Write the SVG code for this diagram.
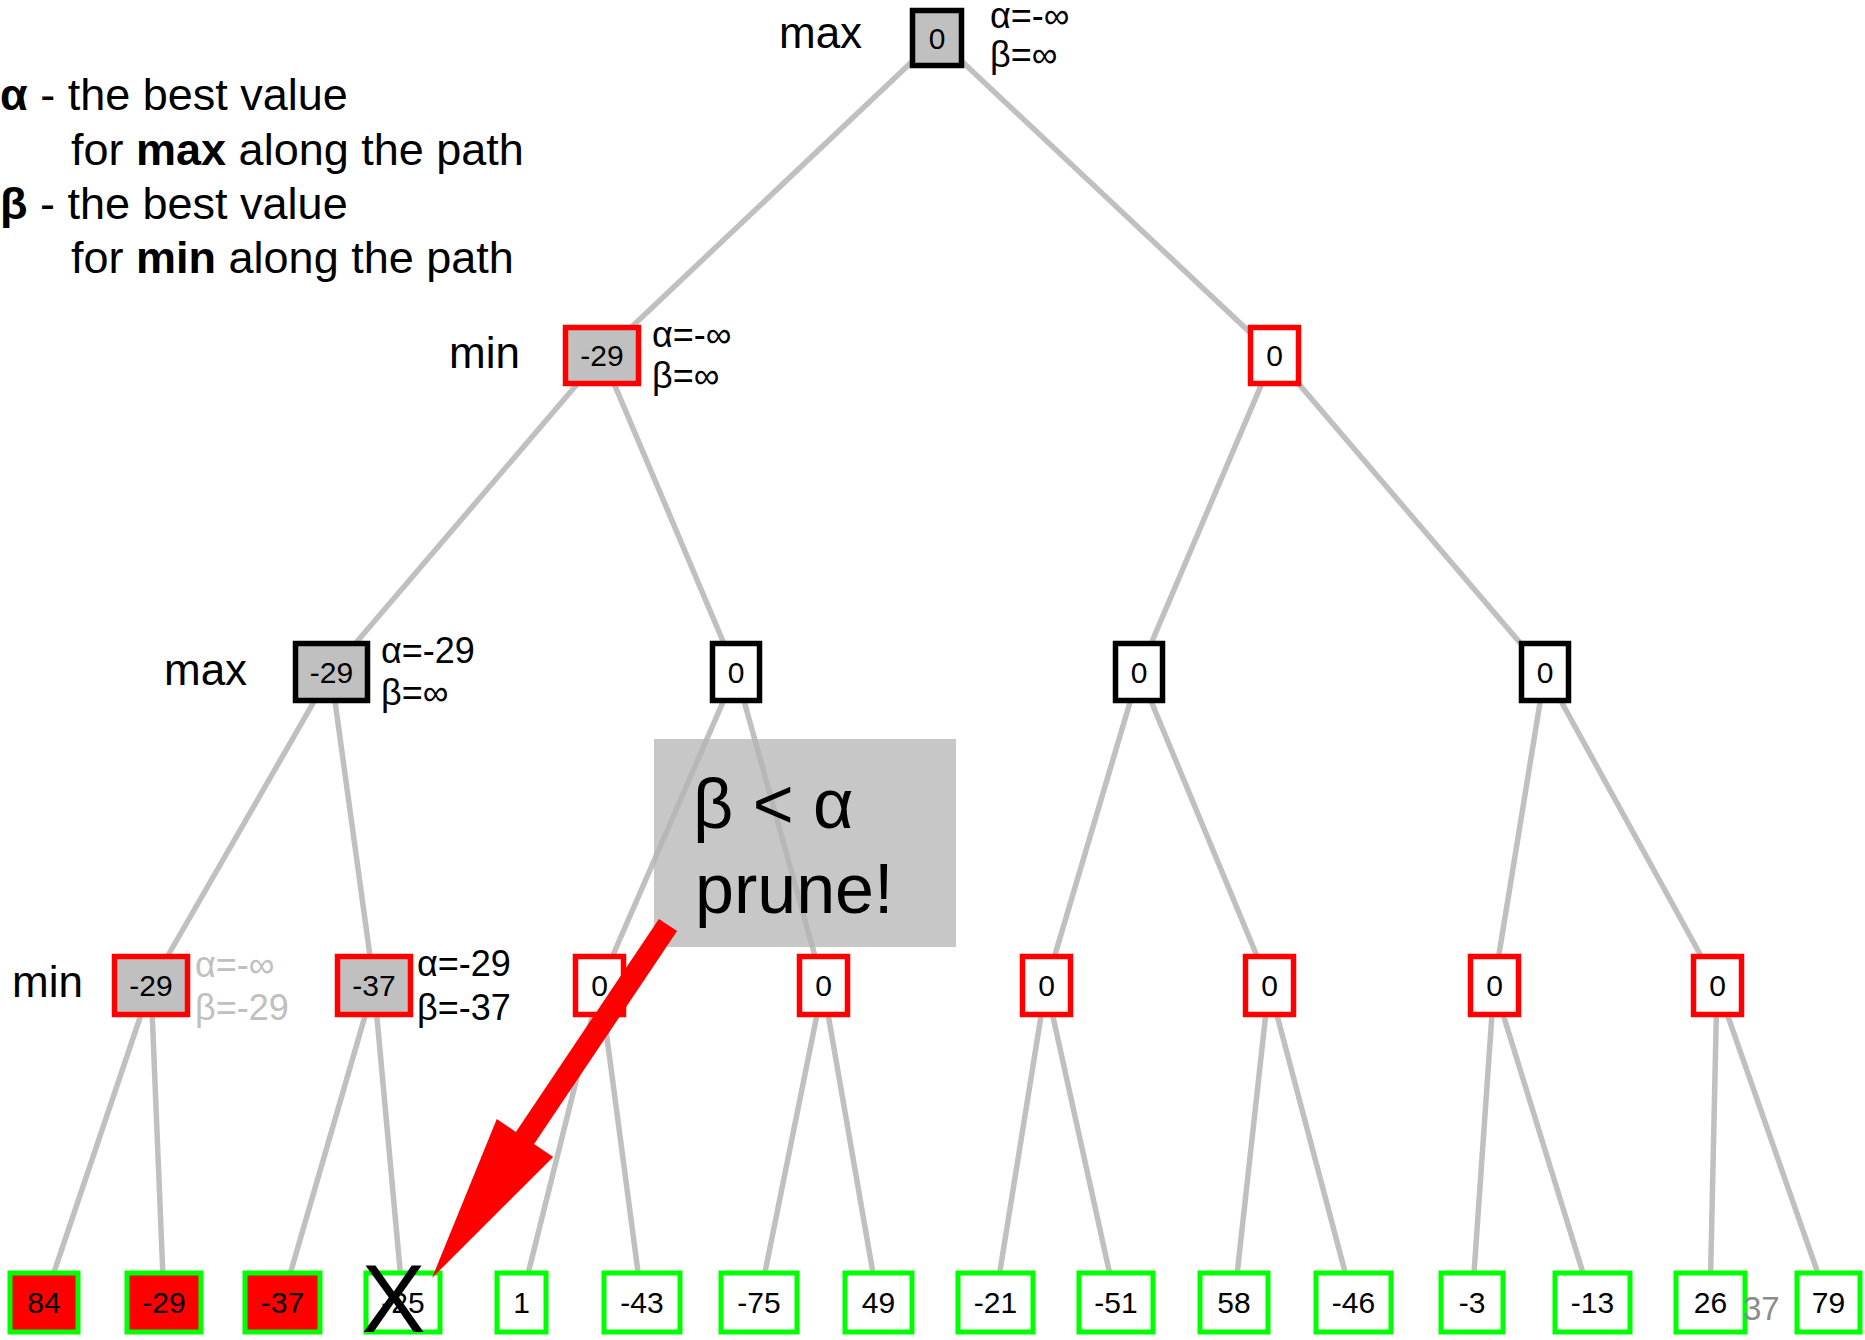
<svg xmlns="http://www.w3.org/2000/svg" width="1865" height="1340" viewBox="0 0 1865 1340">
<style>
text{font-family:"Liberation Sans",Arial,sans-serif;fill:#000}
.e line{stroke:#c0c0c0;stroke-width:5.5}
.n{stroke-width:5.5}
.mx{stroke:#000}
.mn{stroke:#ff0000}
.lf{stroke:#00ff00;stroke-width:5}
.g{fill:#c0c0c0}
.w{fill:#fff}
.r{fill:#ff0000}
.v{font-size:30px;text-anchor:middle}
.lv{font-size:44px}
.ab{font-size:36px}
.lg{font-size:45px}
</style>
<rect width="1865" height="1340" fill="#fff"/>
<g id="legend">
<text class="lg" x="0" y="110"><tspan font-weight="bold">α</tspan> - the best value</text>
<text class="lg" x="71" y="165">for <tspan font-weight="bold">max</tspan> along the path</text>
<text class="lg" x="0" y="219"><tspan font-weight="bold">β</tspan> - the best value</text>
<text class="lg" x="71" y="273">for <tspan font-weight="bold">min</tspan> along the path</text>
</g>
<g id="connectors" class="e">
<line x1="937" y1="38" x2="602" y2="355"/>
<line x1="937" y1="38" x2="1274" y2="355"/>
<line x1="602" y1="355" x2="331" y2="672"/>
<line x1="602" y1="355" x2="736" y2="672"/>
<line x1="1274" y1="355" x2="1139" y2="672"/>
<line x1="1274" y1="355" x2="1545" y2="672"/>
<line x1="331" y1="672" x2="151" y2="985"/>
<line x1="331" y1="672" x2="374" y2="985"/>
<line x1="736" y1="672" x2="600" y2="985"/>
<line x1="736" y1="672" x2="823" y2="985"/>
<line x1="1139" y1="672" x2="1046" y2="985"/>
<line x1="1139" y1="672" x2="1269" y2="985"/>
<line x1="1545" y1="672" x2="1494" y2="985"/>
<line x1="1545" y1="672" x2="1717" y2="985"/>
<line x1="151" y1="985" x2="44" y2="1302"/>
<line x1="151" y1="985" x2="164" y2="1302"/>
<line x1="374" y1="985" x2="282" y2="1302"/>
<line x1="374" y1="985" x2="403" y2="1302"/>
<line x1="600" y1="985" x2="521" y2="1302"/>
<line x1="600" y1="985" x2="642" y2="1302"/>
<line x1="823" y1="985" x2="759" y2="1302"/>
<line x1="823" y1="985" x2="878" y2="1302"/>
<line x1="1046" y1="985" x2="995" y2="1302"/>
<line x1="1046" y1="985" x2="1116" y2="1302"/>
<line x1="1269" y1="985" x2="1234" y2="1302"/>
<line x1="1269" y1="985" x2="1353" y2="1302"/>
<line x1="1494" y1="985" x2="1472" y2="1302"/>
<line x1="1494" y1="985" x2="1592" y2="1302"/>
<line x1="1717" y1="985" x2="1710" y2="1302"/>
<line x1="1717" y1="985" x2="1828" y2="1302"/>
</g>
<g id="prune-note">
<rect x="654" y="739" width="302" height="208" fill="#b4b4b4" fill-opacity="0.75"/>
<text x="693" y="828" font-size="70">β &lt; α</text>
<text x="695" y="913" font-size="70">prune!</text>
</g>
<g id="root">
<rect class="n mx g" x="912.5" y="10.5" width="49" height="55"/>
<text class="v" x="937" y="49">0</text>
<text class="lv" x="779" y="48">max</text>
<text class="ab" x="990" y="28">α=-∞</text>
<text class="ab" x="990" y="67">β=∞</text>
</g>
<g id="n1a">
<rect class="n mn g" x="565.5" y="327.5" width="73" height="56"/>
<text class="v" x="602" y="366">-29</text>
<text class="lv" x="449" y="368">min</text>
<text class="ab" x="652" y="347">α=-∞</text>
<text class="ab" x="652" y="388">β=∞</text>
</g>
<g id="n1b">
<rect class="n mn w" x="1250.5" y="327.5" width="48" height="56"/>
<text class="v" x="1274.5" y="366">0</text>
</g>
<g id="n2a">
<rect class="n mx g" x="295.5" y="643.5" width="72" height="57"/>
<text class="v" x="331.5" y="683">-29</text>
<text class="lv" x="164" y="685">max</text>
<text class="ab" x="381" y="663">α=-29</text>
<text class="ab" x="381" y="705">β=∞</text>
</g>
<g id="n2b">
<rect class="n mx w" x="712.5" y="643.5" width="47" height="57"/>
<text class="v" x="736" y="683">0</text>
</g>
<g id="n2c">
<rect class="n mx w" x="1115.5" y="643.5" width="47" height="57"/>
<text class="v" x="1139" y="683">0</text>
</g>
<g id="n2d">
<rect class="n mx w" x="1521.5" y="643.5" width="47" height="57"/>
<text class="v" x="1545" y="683">0</text>
</g>
<g id="n3a">
<rect class="n mn g" x="114.5" y="956.5" width="73" height="58"/>
<text class="v" x="151" y="996">-29</text>
<text class="lv" x="12" y="997">min</text>
<text class="ab" x="195" y="977" style="fill:#c0c0c0">α=-∞</text>
<text class="ab" x="195" y="1020" style="fill:#c0c0c0">β=-29</text>
</g>
<g id="n3b">
<rect class="n mn g" x="337.5" y="956.5" width="73" height="58"/>
<text class="v" x="374" y="996">-37</text>
<text class="ab" x="417" y="976">α=-29</text>
<text class="ab" x="417" y="1020">β=-37</text>
</g>
<g id="n3c"><rect class="n mn w" x="575.5" y="956.5" width="48" height="58"/><text class="v" x="599.5" y="996">0</text></g>
<g id="n3d"><rect class="n mn w" x="799.5" y="956.5" width="48" height="58"/><text class="v" x="823.5" y="996">0</text></g>
<g id="n3e"><rect class="n mn w" x="1022.5" y="956.5" width="48" height="58"/><text class="v" x="1046.5" y="996">0</text></g>
<g id="n3f"><rect class="n mn w" x="1245.5" y="956.5" width="48" height="58"/><text class="v" x="1269.5" y="996">0</text></g>
<g id="n3g"><rect class="n mn w" x="1470.5" y="956.5" width="48" height="58"/><text class="v" x="1494.5" y="996">0</text></g>
<g id="n3h"><rect class="n mn w" x="1693.5" y="956.5" width="48" height="58"/><text class="v" x="1717.5" y="996">0</text></g>
<g id="leaf1"><rect class="lf r" x="10" y="1273" width="68" height="59"/><text class="v" x="44" y="1313">84</text></g>
<g id="leaf2"><rect class="lf r" x="127" y="1273" width="74" height="59"/><text class="v" x="164" y="1313">-29</text></g>
<g id="leaf3"><rect class="lf r" x="245" y="1273" width="75" height="59"/><text class="v" x="282.5" y="1313">-37</text></g>
<g id="leaf4"><rect class="lf w" x="366" y="1273" width="74" height="59"/><text class="v" x="403" y="1313">-25</text></g>
<g id="leaf5"><rect class="lf w" x="497" y="1273" width="49" height="59"/><text class="v" x="521.5" y="1313">1</text></g>
<g id="leaf6"><rect class="lf w" x="604" y="1273" width="76" height="59"/><text class="v" x="642" y="1313">-43</text></g>
<g id="leaf7"><rect class="lf w" x="721" y="1273" width="76" height="59"/><text class="v" x="759" y="1313">-75</text></g>
<g id="leaf8"><rect class="lf w" x="845" y="1273" width="67" height="59"/><text class="v" x="878.5" y="1313">49</text></g>
<g id="leaf9"><rect class="lf w" x="958" y="1273" width="75" height="59"/><text class="v" x="995.5" y="1313">-21</text></g>
<g id="leaf10"><rect class="lf w" x="1079" y="1273" width="74" height="59"/><text class="v" x="1116" y="1313">-51</text></g>
<g id="leaf11"><rect class="lf w" x="1200" y="1273" width="68" height="59"/><text class="v" x="1234" y="1313">58</text></g>
<g id="leaf12"><rect class="lf w" x="1316" y="1273" width="75" height="59"/><text class="v" x="1353.5" y="1313">-46</text></g>
<g id="leaf13"><rect class="lf w" x="1441" y="1273" width="62" height="59"/><text class="v" x="1472" y="1313">-3</text></g>
<g id="leaf14"><rect class="lf w" x="1555" y="1273" width="75" height="59"/><text class="v" x="1592.5" y="1313">-13</text></g>
<g id="leaf15"><rect class="lf w" x="1676" y="1273" width="69" height="59"/><text class="v" x="1710.5" y="1313">26</text></g>
<g id="leaf16"><rect class="lf w" x="1797" y="1273" width="63" height="59"/><text class="v" x="1828.5" y="1313">79</text></g>
<g id="prune-arrow">
<polygon points="658.9,918.9 677.1,931.1 534.1,1144.1 553.2,1156.9 432,1278 496.8,1119.1 515.9,1131.9" fill="#ff0000"/>
</g>
<g id="cross">
<text x="393.5" y="1332" font-size="96" text-anchor="middle">X</text>
</g>
<text x="1743" y="1320" font-size="33" style="fill:#8c8c8c">37</text>
</svg>
